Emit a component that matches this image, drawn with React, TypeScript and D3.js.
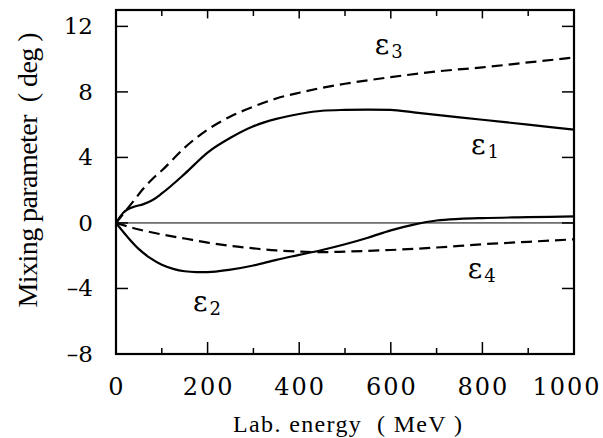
import React from "react";
import * as d3 from "d3";

// ---- data ----
const eps1Energy = [0, 15, 35, 60, 80, 100, 150, 200, 250, 300, 350, 400, 450, 500, 550, 600, 650, 700, 800, 900, 1000];
const eps1Value = [0, 0.6, 0.95, 1.15, 1.4, 1.8, 3.0, 4.3, 5.2, 5.9, 6.35, 6.65, 6.85, 6.9, 6.92, 6.9, 6.75, 6.6, 6.3, 6.0, 5.7];

const eps3Energy = [0, 20, 40, 60, 80, 100, 150, 200, 250, 300, 350, 400, 450, 500, 600, 700, 800, 900, 1000];
const eps3Value = [0, 0.7, 1.4, 2.1, 2.7, 3.2, 4.6, 5.7, 6.5, 7.1, 7.6, 7.95, 8.25, 8.5, 8.9, 9.25, 9.5, 9.8, 10.1];

const eps2Energy = [0, 25, 50, 75, 100, 125, 150, 175, 200, 250, 300, 350, 400, 450, 500, 550, 600, 650, 700, 750, 800, 900, 1000];
const eps2Value = [0, -0.85, -1.6, -2.15, -2.55, -2.8, -2.95, -3.0, -3.0, -2.85, -2.6, -2.25, -1.95, -1.65, -1.3, -0.9, -0.45, -0.1, 0.15, 0.25, 0.3, 0.35, 0.4];

const eps4Energy = [0, 50, 100, 150, 200, 250, 300, 350, 400, 450, 500, 600, 700, 800, 900, 1000];
const eps4Value = [0, -0.4, -0.7, -0.95, -1.2, -1.4, -1.55, -1.68, -1.75, -1.78, -1.75, -1.65, -1.5, -1.3, -1.15, -1.0];

const xMajorTicks = [0, 200, 400, 600, 800, 1000];
const xMinorTicks = [100, 300, 500, 700, 900];
const yTicks = [-8, -4, 0, 4, 8, 12];
const xDomain = [0, 1000];
const yDomain = [-8, 13];

const xTitle = "Lab. energy  ( MeV )";
const yTitle = "Mixing parameter  ( deg )";

// label anchors in data coordinates
const seriesLabels = [
  { sub: "1", e: 775, v: 4.2 },
  { sub: "3", e: 565, v: 10.3 },
  { sub: "2", e: 168, v: -5.4 },
  { sub: "4", e: 768, v: -3.35 },
];

const W = 603;
const H = 438;

export default function App() {
  const x = d3.scaleLinear().domain(xDomain).range([116, 574]);
  const y = d3.scaleLinear().domain(yDomain).range([354, 10]);

  const line = d3
    .line<[number, number]>()
    .x((d) => x(d[0]))
    .y((d) => y(d[1]))
    .curve(d3.curveMonotoneX);

  const zip = (a: number[], b: number[]) => a.map((v, i) => [v, b[i]] as [number, number]);

  const series = [
    { d: zip(eps1Energy, eps1Value), dash: null },
    { d: zip(eps3Energy, eps3Value), dash: "11,6" },
    { d: zip(eps2Energy, eps2Value), dash: null },
    { d: zip(eps4Energy, eps4Value), dash: "11,6" },
  ];

  const [x0, x1] = x.range();
  const [yb, yt] = y.range();
  const major = 12;
  const minor = 6;
  const serif = "'Liberation Serif', 'Times New Roman', serif";
  const tickFont = "'DejaVu Serif', serif";

  return (
    <div style={{ position: "absolute", left: 0, top: 0 }}>
      <svg width={W} height={H} style={{ display: "block", background: "#fff" }}>
        <defs>
          <clipPath id="plot">
            <rect x={x0} y={yt} width={x1 - x0} height={yb - yt} />
          </clipPath>
        </defs>

        {/* zero line */}
        <line x1={x0} x2={x1} y1={y(0)} y2={y(0)} stroke="#000" strokeWidth={1} />

        {/* curves */}
        <g clipPath="url(#plot)">
          {series.map((s, i) => (
            <path
              key={i}
              d={line(s.d) || ""}
              fill="none"
              stroke="#000"
              strokeWidth={2.2}
              strokeDasharray={s.dash || undefined}
            />
          ))}
        </g>

        {/* ticks */}
        <g stroke="#000" strokeWidth={1.5}>
          {xMajorTicks.map((t) => (
            <g key={"xM" + t}>
              <line x1={x(t)} x2={x(t)} y1={yb} y2={yb - major} />
              <line x1={x(t)} x2={x(t)} y1={yt} y2={yt + major * 0.7} />
            </g>
          ))}
          {xMinorTicks.map((t) => (
            <g key={"xm" + t}>
              <line x1={x(t)} x2={x(t)} y1={yb} y2={yb - minor} />
              <line x1={x(t)} x2={x(t)} y1={yt} y2={yt + minor} />
            </g>
          ))}
          {yTicks.map((t) => (
            <g key={"y" + t}>
              <line x1={x0} x2={x0 + major} y1={y(t)} y2={y(t)} />
              <line x1={x1} x2={x1 - major} y1={y(t)} y2={y(t)} />
            </g>
          ))}
        </g>

        {/* frame */}
        <rect x={x0} y={yt} width={x1 - x0} height={yb - yt} fill="none" stroke="#000" strokeWidth={2.2} />

        {/* tick labels */}
        <g fontFamily={tickFont} fontSize={24} fill="#000">
          {xMajorTicks.map((t) => (
            <text
              key={"xl" + t}
              x={Math.min(x(t) + 1, W - 36)}
              y={395}
              textAnchor="middle"
              letterSpacing={2}
            >
              {t}
            </text>
          ))}
        </g>
        <g fontFamily={tickFont} fontSize={23} fill="#000">
          {yTicks.map((t) => (
            <text key={"yl" + t} x={93} y={y(t) + 8} textAnchor="end">
              {t < 0 ? "\u2013" + Math.abs(t) : String(t)}
            </text>
          ))}
        </g>

        {/* series labels */}
        <g fontFamily={tickFont} fill="#000">
          {seriesLabels.map((l) => (
            <text key={l.sub} x={x(l.e)} y={y(l.v)} fontSize={28}>
              {"\u03b5"}
              <tspan fontSize={18} dx={2} dy={4}>
                {l.sub}
              </tspan>
            </text>
          ))}
        </g>

        {/* axis titles */}
        <text
          x={233}
          y={432}
          fontFamily={serif}
          fontSize={24}
          textLength={229}
          lengthAdjust="spacing"
          style={{ whiteSpace: "pre" }}
        >
          {xTitle}
        </text>
        <text
          transform="translate(37,170) rotate(-90)"
          textAnchor="middle"
          fontFamily={serif}
          fontSize={28}
          textLength={275}
          lengthAdjust="spacing"
          style={{ whiteSpace: "pre" }}
        >
          {yTitle}
        </text>
      </svg>
    </div>
  );
}
